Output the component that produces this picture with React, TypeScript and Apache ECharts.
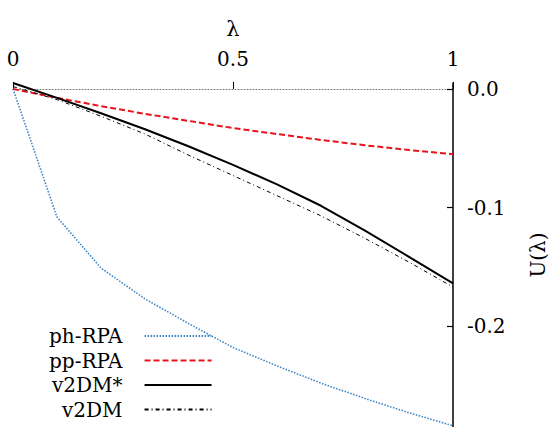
import React, { useEffect, useRef } from "react";
import * as echarts from "echarts";

const lambdas = [0, 0.1, 0.2, 0.3, 0.4, 0.5, 0.6, 0.7, 0.8, 0.9, 1.0];
const phRPA = [0, -0.108, -0.151, -0.177, -0.198, -0.218, -0.2335, -0.248, -0.261, -0.273, -0.284];
const ppRPA = [0, -0.0075, -0.0145, -0.021, -0.027, -0.033, -0.038, -0.043, -0.0475, -0.0515, -0.055];
const v2DMstar = [0.005, -0.0075, -0.0205, -0.034, -0.0485, -0.064, -0.0805, -0.0985, -0.1195, -0.1415, -0.164];
const v2DM = [0.002, -0.009, -0.023, -0.038, -0.056, -0.073, -0.09, -0.107, -0.126, -0.146, -0.167];
const xTicks = [0, 0.5, 1];
const yTicks = [0, -0.1, -0.2];
const seriesNames = ["ph-RPA", "pp-RPA", "v2DM*", "v2DM"];

const FONT = "DejaVu Serif";
const FS = 20;

export default function App() {
  const ref = useRef<HTMLDivElement>(null);
  useEffect(() => {
    if (!ref.current) return;
    const chart = echarts.init(ref.current, null, { renderer: "svg" });
    const pts = (ys: number[]) => lambdas.map((x, i) => [x, ys[i]]);
    chart.setOption({
      animation: false,
      backgroundColor: "#fff",
      grid: { left: 13, right: 99, top: 83, bottom: 0, outerBoundsMode: "none", containLabel: false },
      xAxis: {
        type: "value",
        position: "top",
        min: 0,
        max: 1,
        name: "λ",
        nameLocation: "middle",
        nameGap: 44,
        nameMoveOverlap: false,
        nameTextStyle: { fontFamily: FONT, fontSize: 21, color: "#000" },
        axisLine: { onZero: true, lineStyle: { color: "#777", type: [1, 2], width: 1 } },
        axisTick: { show: true, length: 7, customValues: xTicks, lineStyle: { color: "#000", width: 1 } },
        axisLabel: {
          customValues: xTicks,
          margin: 14,
          alignMinLabel: "center",
          alignMaxLabel: "center",
          hideOverlap: false,
          fontFamily: FONT,
          fontSize: FS,
          color: "#000",
          formatter: (v: number) => String(v),
        },
        splitLine: { show: false },
      },
      yAxis: {
        type: "value",
        position: "right",
        min: -0.285,
        max: 0.005,
        name: "U(λ)",
        nameLocation: "middle",
        nameRotate: 90,
        nameGap: 75,
        nameMoveOverlap: false,
        nameTextStyle: { fontFamily: FONT, fontSize: FS, color: "#000" },
        axisLine: { show: true, onZero: false, lineStyle: { color: "#000", width: 1.5 } },
        axisTick: { show: true, inside: true, length: 6, customValues: yTicks, lineStyle: { color: "#000", width: 1.2 } },
        axisLabel: {
          customValues: yTicks,
          margin: 14,
          fontFamily: FONT,
          fontSize: FS,
          color: "#000",
          formatter: (v: number) => (Math.abs(v) < 1e-9 ? "0.0" : v.toFixed(1)),
        },
        splitLine: { show: false },
      },
      legend: {
        orient: "vertical",
        align: "right",
        left: 49,
        top: 326,
        height: 130,
        itemWidth: 67,
        itemHeight: 14,
        itemGap: 4.5,
        padding: 0,
        itemStyle: { opacity: 0 },
        textStyle: { fontFamily: FONT, fontSize: FS, color: "#000", padding: [0, 17, 0, 0] },
        data: seriesNames,
      },
      series: [
        {
          name: seriesNames[0],
          type: "line",
          data: pts(phRPA),
          symbol: "none",
          lineStyle: { color: "#3d85c9", width: 1.6, type: [1.5, 1.5] },
          itemStyle: { color: "#3d85c9" },
        },
        {
          name: seriesNames[1],
          type: "line",
          data: pts(ppRPA),
          symbol: "none",
          lineStyle: { color: "#e8141b", width: 2, type: [6, 3] },
          itemStyle: { color: "#e8141b" },
        },
        {
          name: seriesNames[2],
          type: "line",
          data: pts(v2DMstar),
          symbol: "none",
          lineStyle: { color: "#000", width: 2, type: "solid" },
          itemStyle: { color: "#000" },
        },
        {
          name: seriesNames[3],
          type: "line",
          data: pts(v2DM),
          symbol: "none",
          lineStyle: { color: "#000", width: 1, type: [4, 3, 1, 3] },
          itemStyle: { color: "#000" },
        },
      ],
    });
    return () => chart.dispose();
  }, []);
  return (
    <div
      ref={ref}
      style={{ position: "fixed", left: 0, top: 0, width: 552, height: 427 }}
    />
  );
}
